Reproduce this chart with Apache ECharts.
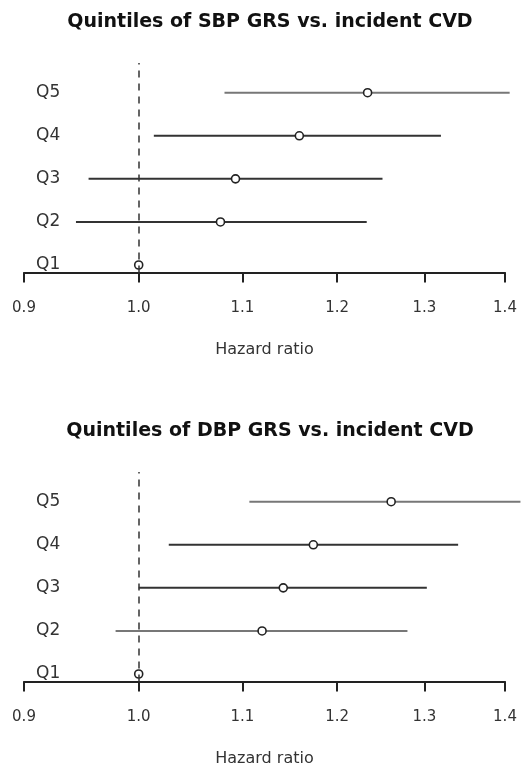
<!DOCTYPE html>
<html>
<head>
<meta charset="utf-8">
<script src="https://cdn.jsdelivr.net/npm/echarts@6/dist/echarts.min.js"></script>
<style>
  html, body { margin: 0; padding: 0; background: #fff; }
  #chart { width: 521px; height: 773px; }
</style>
</head>
<body>
<div id="chart"></div>
<script>
// quintile labels (row 1 = Q1 at the bottom)
const quintiles = ['Q1', 'Q2', 'Q3', 'Q4', 'Q5'];
const tickValues = [0.9, 1.0, 1.1, 1.2, 1.3, 1.4];

// SBP GRS hazard ratios with 95% CI
const sbpHR = [1.0, 1.078, 1.093, 1.159, 1.234];
const sbpLow = [null, 0.944, 0.955, 1.014, 1.082];
const sbpHigh = [null, 1.233, 1.251, 1.320, 1.406];

// DBP GRS hazard ratios with 95% CI
const dbpHR = [1.0, 1.120, 1.142, 1.174, 1.261];
const dbpLow = [null, 0.979, 1.000, 1.028, 1.107];
const dbpHigh = [null, 1.280, 1.303, 1.341, 1.420];

const chart = echarts.init(document.getElementById('chart'));
const ln = Math.log;
const font = 'DejaVu Sans';
const textColor = '#333';
// lighter grey for a few CI lines, as in the original
const sbpLineColors = ['#333', '#333', '#333', '#333', '#777'];
const dbpLineColors = ['#333', '#777', '#333', '#333', '#777'];

function ciSeries(idx, low, high, colors) {
  const data = [];
  for (let i = 0; i < quintiles.length; i++) {
    if (low[i] == null) continue;
    data.push([ln(low[i]), ln(high[i]), i + 1, i]);
  }
  return {
    type: 'custom',
    xAxisIndex: idx,
    yAxisIndex: idx,
    clip: false,
    encode: {x: [0, 1], y: 2},
    data: data,
    renderItem: function (params, api) {
      const a = api.coord([api.value(0), api.value(2)]);
      const b = api.coord([api.value(1), api.value(2)]);
      return {
        type: 'line',
        shape: {x1: a[0], y1: a[1], x2: b[0], y2: b[1]},
        style: {stroke: colors[api.value(3)], lineWidth: 2}
      };
    },
    z: 2
  };
}

function pointSeries(idx, hr) {
  return {
    type: 'scatter',
    xAxisIndex: idx,
    yAxisIndex: idx,
    symbol: 'circle',
    symbolSize: 8,
    itemStyle: {color: '#fff', borderColor: '#222', borderWidth: 1.6, opacity: 1},
    data: hr.map((v, i) => [ln(v), i + 1]),
    markLine: {
      silent: true,
      symbol: 'none',
      label: {show: false},
      lineStyle: {type: [7, 6], color: '#333', width: 1.5},
      data: [{xAxis: 0}]
    },
    z: 3
  };
}

function xAxis(idx) {
  return {
    type: 'value',
    gridIndex: idx,
    min: ln(0.9),
    max: ln(1.4),
    name: 'Hazard ratio',
    nameLocation: 'middle',
    nameGap: 69,
    nameTextStyle: {fontFamily: font, fontSize: 16, color: textColor},
    axisLine: {show: true, lineStyle: {color: '#222', width: 2}},
    axisTick: {show: true, length: 10, customValues: tickValues.map(ln), lineStyle: {color: '#222', width: 2}},
    axisLabel: {
      customValues: tickValues.map(ln),
      margin: 28,
      fontFamily: font,
      fontSize: 15,
      color: textColor,
      formatter: v => Math.exp(v).toFixed(1)
    },
    splitLine: {show: false}
  };
}

function yAxis(idx) {
  return {
    type: 'value',
    gridIndex: idx,
    min: 0.826,
    max: 5.69,
    axisLine: {show: false},
    axisTick: {show: false},
    splitLine: {show: false},
    axisLabel: {
      inside: true,
      margin: 12,
      customValues: [1, 2, 3, 4, 5],
      fontFamily: font,
      fontSize: 17,
      color: textColor,
      formatter: v => quintiles[Math.round(v) - 1]
    }
  };
}

chart.setOption({
  animation: false,
  title: [
    {
      text: 'Quintiles of SBP GRS vs. incident CVD',
      left: 265, top: 8, textAlign: 'center',
      textStyle: {fontFamily: font, fontSize: 19, fontWeight: 'bold', color: '#111'}
    },
    {
      text: 'Quintiles of DBP GRS vs. incident CVD',
      left: 265, top: 417, textAlign: 'center',
      textStyle: {fontFamily: font, fontSize: 19, fontWeight: 'bold', color: '#111'}
    }
  ],
  grid: [
    {left: 24, right: 16, top: 63, height: 209.5},
    {left: 24, right: 16, top: 472, height: 209.5}
  ],
  xAxis: [xAxis(0), xAxis(1)],
  yAxis: [yAxis(0), yAxis(1)],
  series: [
    ciSeries(0, sbpLow, sbpHigh, sbpLineColors),
    pointSeries(0, sbpHR),
    ciSeries(1, dbpLow, dbpHigh, dbpLineColors),
    pointSeries(1, dbpHR)
  ]
});
</script>
</body>
</html>
